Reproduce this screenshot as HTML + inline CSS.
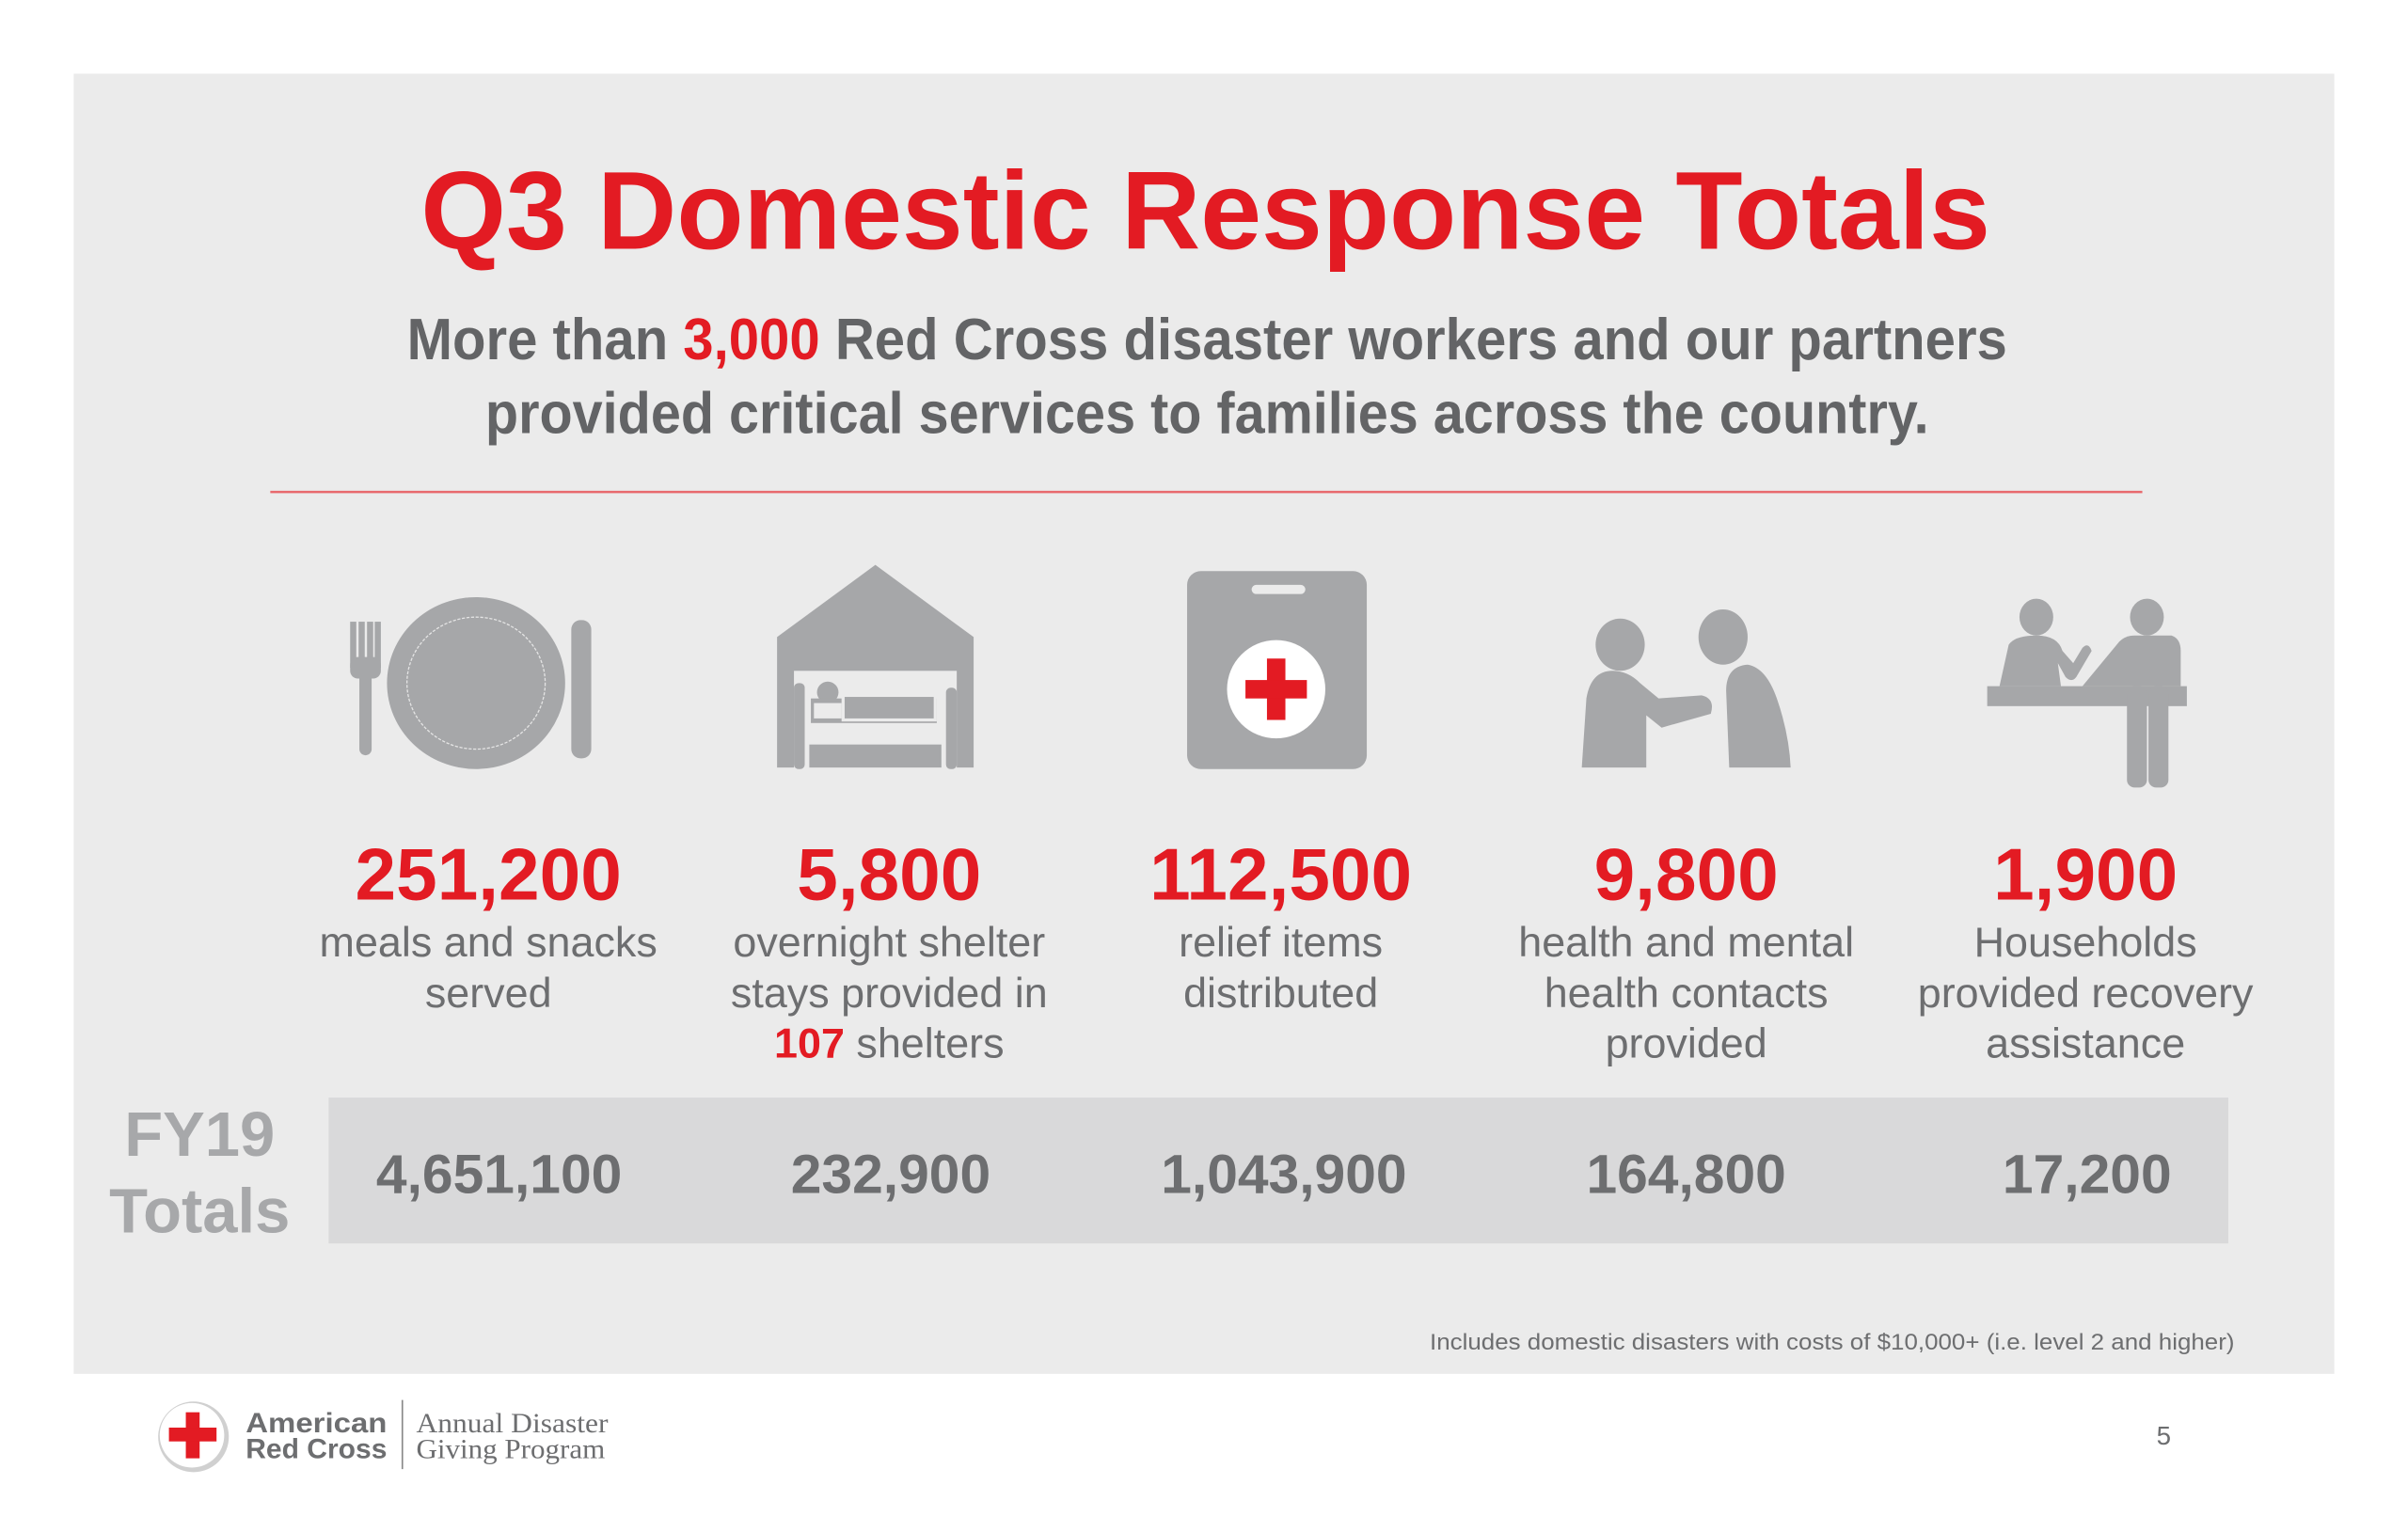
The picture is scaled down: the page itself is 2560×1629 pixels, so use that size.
<!DOCTYPE html>
<html><head><meta charset="utf-8">
<style>
html,body{margin:0;padding:0;background:#fff;}
svg{display:block;}
text{font-family:"Liberation Sans",Arial,sans-serif;}
</style></head>
<body>
<svg id="s" width="2560" height="1629" viewBox="0 0 1568 998" preserveAspectRatio="none" xmlns="http://www.w3.org/2000/svg">
<rect x="0" y="0" width="1568" height="998" fill="#ffffff"/>
<rect x="48" y="48" width="1472" height="847" fill="#ebebeb"/>
<text x="785" y="162" text-anchor="middle" font-size="72" font-weight="bold" fill="#e31b23" textLength="1022" lengthAdjust="spacingAndGlyphs">Q3 Domestic Response Totals</text>
<text x="786" y="234" text-anchor="middle" font-size="38" font-weight="bold" fill="#636466" textLength="1042" lengthAdjust="spacingAndGlyphs">More than <tspan fill="#e31b23">3,000</tspan> Red Cross disaster workers and our partners</text>
<text x="786" y="282" text-anchor="middle" font-size="38" font-weight="bold" fill="#636466" textLength="940" lengthAdjust="spacingAndGlyphs">provided critical services to families across the country.</text>
<line x1="176" y1="320.5" x2="1395" y2="320.5" stroke="#e8696d" stroke-width="1.5"/>

<g fill="#a6a7a9">
  <g>
    <rect x="228" y="405" width="4" height="30"/><rect x="233.5" y="405" width="4" height="30"/><rect x="239" y="405" width="4" height="30"/><rect x="244" y="405" width="4" height="30"/>
    <rect x="228" y="428" width="20" height="14" rx="5"/>
    <rect x="234" y="438" width="8" height="54" rx="4"/>
    <ellipse cx="310" cy="445" rx="58" ry="56"/>
    <ellipse cx="310" cy="445" rx="45" ry="43" fill="none" stroke="#e4e4e4" stroke-width="0.8" stroke-dasharray="2 1"/>
    <rect x="372" y="404" width="13" height="90" rx="6"/>
  </g>
  <g>
    <polygon points="506,415 570,368 634,415 634,500 506,500"/>
    <rect x="517" y="437" width="106" height="64" fill="#ebebeb"/>
    <rect x="517" y="445" width="7" height="56" rx="3"/>
    <rect x="616" y="448" width="7" height="53" rx="3"/>
    <circle cx="539" cy="451" r="7"/>
    <rect x="528" y="455" width="82" height="16" fill="#a6a7a9"/>
    <rect x="548" y="452" width="62" height="18" fill="#ebebeb"/>
    <rect x="550" y="454" width="58" height="14"/>
    <rect x="530" y="458" width="18" height="10" fill="#ebebeb"/>
    <rect x="527" y="485" width="86" height="15"/>
  </g>
  <g>
    <rect x="773" y="372" width="117" height="129" rx="9"/>
    <rect x="815" y="381" width="35" height="6" rx="3" fill="#ebebeb"/>
    <circle cx="831" cy="449" r="32" fill="#ffffff"/>
    <rect x="825" y="429" width="12" height="40" fill="#e31b23"/>
    <rect x="811" y="443" width="40" height="12" fill="#e31b23"/>
  </g>
  <g>
    <ellipse cx="1055" cy="420" rx="16" ry="17"/>
    <ellipse cx="1122" cy="415" rx="16" ry="18"/>
    <path d="M1030,500 L1033,455 Q1036,437 1050,437 Q1060,437 1068,445 L1080,455 L1108,453 Q1117,455 1114,465 L1082,474 L1072,466 L1072,500 Z"/>
    <path d="M1126,500 L1124,450 Q1124,434 1138,433 Q1150,435 1157,455 Q1165,478 1166,500 Z"/>
  </g>
  <g>
    <ellipse cx="1326" cy="402" rx="11" ry="12"/>
    <ellipse cx="1398" cy="402" rx="11" ry="12"/>
    <path d="M1302,447 L1308,420 Q1312,414 1326,414 Q1340,414 1343,424 L1350,432 L1356,422 Q1360,418 1362,424 L1352,441 Q1349,445 1345,441 L1340,432 L1342,447 Z"/>
    <rect x="1294" y="447" width="130" height="13"/>
    <path d="M1356,447 L1380,418 Q1384,414 1390,414 L1414,414 Q1420,416 1420,424 L1420,447 Z"/>
    <rect x="1385" y="447" width="13" height="66" rx="5"/>
    <rect x="1399" y="447" width="13" height="66" rx="5"/>
  </g>
</g>

<g id="stats"></g>

<rect x="214" y="715" width="1237" height="95" fill="#d9d9da"/>
<text x="130" y="753" text-anchor="middle" font-size="41" font-weight="bold" fill="#a7a8aa">FY19</text>
<text x="130" y="803" text-anchor="middle" font-size="41" font-weight="bold" fill="#a7a8aa">Totals</text>
<g id="totals"></g>

<text x="931" y="879" font-size="14.5" fill="#6d6e70" textLength="524" lengthAdjust="spacingAndGlyphs">Includes domestic disasters with costs of $10,000+ (i.e. level 2 and higher)</text>

<g>
  <circle cx="126" cy="936" r="23" fill="#d0d0d0"/>
  <circle cx="125" cy="935" r="21" fill="#ffffff"/>
  <rect x="121" y="920" width="9" height="30" fill="#e31b23"/>
  <rect x="110" y="930" width="31" height="9" fill="#e31b23"/>
</g>
<text x="160" y="933" font-size="18" font-weight="bold" fill="#6d6e70" textLength="92" lengthAdjust="spacingAndGlyphs">American</text>
<text x="160" y="950" font-size="18" font-weight="bold" fill="#6d6e70" textLength="92" lengthAdjust="spacingAndGlyphs">Red Cross</text>
<line x1="262" y1="912" x2="262" y2="957" stroke="#888" stroke-width="1"/>
<text x="271" y="933" font-size="18" fill="#6d6e70" style="font-family:'Liberation Serif',serif" textLength="125" lengthAdjust="spacingAndGlyphs">Annual Disaster</text>
<text x="271" y="950" font-size="18" fill="#6d6e70" style="font-family:'Liberation Serif',serif" textLength="123" lengthAdjust="spacingAndGlyphs">Giving Program</text>
<text x="1409" y="941" text-anchor="middle" font-size="17" fill="#6d6e70">5</text>
</svg>
<script>
const quarterValues = ["251,200", "5,800", "112,500", "9,800", "1,900"];
const descLine1 = ["meals and snacks", "overnight shelter", "relief items", "health and mental", "Households"];
const descLine2 = ["served", "stays provided in", "distributed", "health contacts", "provided recovery"];
const descLine3 = ["", "107|shelters", "", "provided", "assistance"];
const fy19Totals = ["4,651,100", "232,900", "1,043,900", "164,800", "17,200"];
const columnCenters = [318, 579, 834, 1098, 1358];
const totalCenters = [325, 580, 836, 1098, 1359];

const NS = "http://www.w3.org/2000/svg";
const stats = document.getElementById('stats');
const totals = document.getElementById('totals');
function mk(parent, x, y, size, weight, fill, txt) {
  const t = document.createElementNS(NS, 'text');
  t.setAttribute('x', x); t.setAttribute('y', y);
  t.setAttribute('text-anchor', 'middle');
  t.setAttribute('font-size', size);
  t.setAttribute('font-weight', weight);
  t.setAttribute('fill', fill);
  t.textContent = txt;
  parent.appendChild(t);
  return t;
}
quarterValues.forEach((v, i) => {
  const cx = columnCenters[i];
  const n = mk(stats, cx, 586, 48, 'bold', '#e31b23', v);
  
  
  const l1 = mk(stats, cx, 623, 27.5, 'normal', '#6d6e70', descLine1[i]);
  
  
  const l2 = mk(stats, cx, 656, 27.5, 'normal', '#6d6e70', descLine2[i]);
  
  
  if (descLine3[i]) {
    const parts = descLine3[i].split('|');
    const l3 = mk(stats, cx, 689, 27.5, 'normal', '#6d6e70', '');
    
    
    if (parts.length > 1) {
      const a = document.createElementNS(NS, 'tspan');
      a.setAttribute('fill', '#e31b23'); a.setAttribute('font-weight', 'bold');
      a.textContent = parts[0] + ' ';
      const b = document.createElementNS(NS, 'tspan');
      b.textContent = parts[1];
      l3.appendChild(a); l3.appendChild(b);
    } else {
      l3.textContent = parts[0];
    }
  }
});
fy19Totals.forEach((v, i) => {
  const t = mk(totals, totalCenters[i], 777, 36, 'bold', '#6d6e70', v);
  
  
});
</script>
</body></html>
